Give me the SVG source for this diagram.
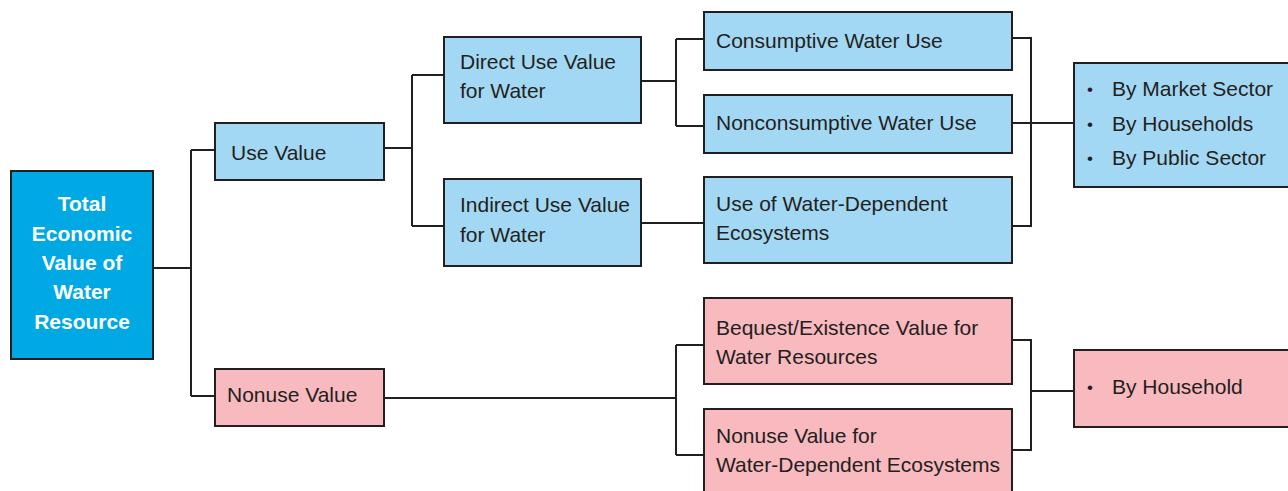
<svg xmlns="http://www.w3.org/2000/svg" width="1288" height="491" viewBox="0 0 1288 491">
<style>
.b{fill:#a3d8f4;stroke:#231f20;stroke-width:2}
.p{fill:#f8b9bf;stroke:#231f20;stroke-width:2}
.t{fill:#00a9e4;stroke:#231f20;stroke-width:2}
text{font-family:"Liberation Sans","Open Sans",sans-serif;font-size:21px;fill:#231f20}
.w{fill:#fff;font-weight:bold;font-size:21px;text-anchor:middle}
.d{font-size:17px}
.c{fill:none;stroke:#231f20;stroke-width:2}
</style>
<rect width="1288" height="491" fill="#fff"/>
<g id="connectors">
<path class="c" d="M153 268H191M191 150V396M191 150H215M191 396H215"/>
<path class="c" d="M384 148H412M412 75V226M412 75H444M412 226H444"/>
<path class="c" d="M641 81H676M676 39V126M676 39H704M676 126H704"/>
<path class="c" d="M641 223H704"/>
<path class="c" d="M1012 38H1031V226H1012M1012 123H1074"/>
<path class="c" d="M384 398H676M676 345V455M676 345H704M676 455H704"/>
<path class="c" d="M1012 340H1031V450H1012M1031 391H1074"/>
</g>
<g id="total"><rect class="t" x="11" y="171" width="142" height="188"/>
<text class="w" x="82" y="211">Total</text><text class="w" x="82" y="241">Economic</text><text class="w" x="82" y="270">Value of</text><text class="w" x="82" y="299">Water</text><text class="w" x="82" y="329">Resource</text></g>
<g id="use"><rect class="b" x="215" y="123" width="169" height="57"/><text x="231" y="160">Use Value</text></g>
<g id="direct"><rect class="b" x="444" y="37" width="197" height="86"/><text x="460" y="69">Direct Use Value</text><text x="460" y="98">for Water</text></g>
<g id="indirect"><rect class="b" x="444" y="179" width="197" height="87"/><text x="460" y="212">Indirect Use Value</text><text x="460" y="242">for Water</text></g>
<g id="consumptive"><rect class="b" x="704" y="12" width="308" height="58"/><text x="716" y="48">Consumptive Water Use</text></g>
<g id="nonconsumptive"><rect class="b" x="704" y="95" width="308" height="58"/><text x="716" y="130">Nonconsumptive Water Use</text></g>
<g id="ecosystems"><rect class="b" x="704" y="177" width="308" height="86"/><text x="716" y="211">Use of Water-Dependent</text><text x="716" y="240">Ecosystems</text></g>
<g id="uselist"><rect class="b" x="1074" y="63" width="220" height="124"/>
<text class="d" x="1087" y="95">•</text><text x="1112" y="96">By Market Sector</text>
<text class="d" x="1087" y="130">•</text><text x="1112" y="131">By Households</text>
<text class="d" x="1087" y="164">•</text><text x="1112" y="165">By Public Sector</text></g>
<g id="nonuse"><rect class="p" x="215" y="369" width="169" height="57"/><text x="227" y="402">Nonuse Value</text></g>
<g id="bequest"><rect class="p" x="704" y="298" width="308" height="86"/><text x="716" y="335">Bequest/Existence Value for</text><text x="716" y="364">Water Resources</text></g>
<g id="nonuseeco"><rect class="p" x="704" y="409" width="308" height="90"/><text x="716" y="443">Nonuse Value for</text><text x="716" y="472">Water-Dependent Ecosystems</text></g>
<g id="nonuselist"><rect class="p" x="1074" y="350" width="220" height="77"/><text class="d" x="1087" y="393">•</text><text x="1112" y="394">By Household</text></g>
</svg>
